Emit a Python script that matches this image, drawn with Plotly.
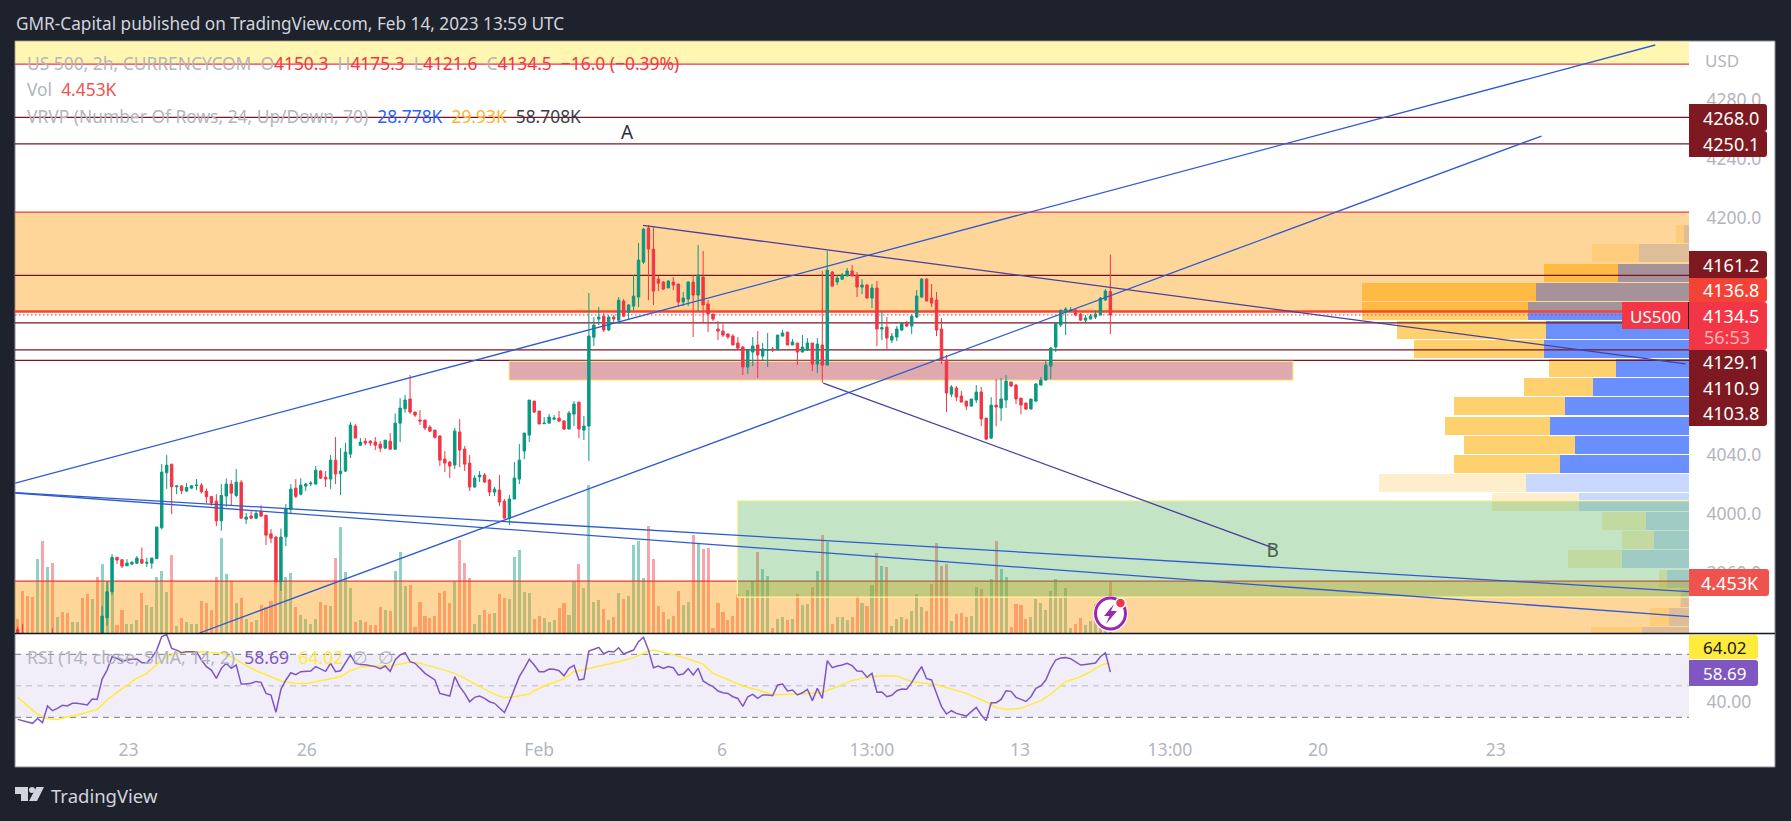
import plotly.graph_objects as go

W, H = 1791, 821
N = None

# ---- candles (bar index 0..220), prices
direction = ("rrrrgrgrgrrggrrgr" "ggg" "rr" "ggg" "r" "ggggg" "r" "g" "r" "ggg" "rrrr" "gg" "r" "g" "r" "g" "r" "g" "rrrr"
             "ggg" "r" "gggg" "rr" "g" "r" "ggg" "r" "g" "rrrr" "g" "r" "ggg" "rrrrrrrrr" "g" "rrr" "gg" "rr" "g" "rr"
             "ggggg" "rr" "ggg" "rr" "gg" "r" "gggg" "r" "g" "r" "g" "r" "gggg" "rrrr" "g" "rr" "gg" "r" "g" "rrrrrrrrr"
             "gg" "r" "gg" "r" "gg" "r" "g" "r" "gg" "r" "g" "r" "g" "r" "ggg" "rr" "g" "r" "g" "r" "g" "r" "ggg" "r" "ggg"
             "rrrrr" "g" "rrr" "gg" "rr" "g" "r" "gg" "rrrr" "ggggggggg" "rr" "ggggg" "r")

body_top = [3922,3915,N,N,N,N,N,3912,N,N,
 N,N,N,N,N,N,N,3931,3947.5,3970.7,
 3970.7,3969.1,3966.8,3967.3,3970.2,3969.3,3967.3,3970.2,3991.2,4028.3,
 4033,4033.7,4018.9,4018.9,4018,4019.1,4019.5,4019.5,4015.3,4011.9,
 4008.7,4012.5,4020.2,4020.2,4021.5,4021.5,3997.9,3998.6,4000.4,4001.7,
 3999.2,3986.6,3984.4,3984.4,4003.7,4016.8,4017.5,4019.5,4020.2,4020.9,
 4029.6,4029,4024.9,4036.4,4036.4,4029,4041.8,4060.1,4059.4,4048.6,
 4049.2,4049.2,4048.6,4047.2,4049.9,4049.2,4061.4,4071.6,4077,4077.7,
 4068.9,4063.5,4063.5,4058.7,4056.7,4052.7,4037.1,4035.1,4056,4055.4,
 4043.9,4034.4,4024.3,4026.3,4026.3,4022.9,4016.8,4016.2,4008.7,4010.1,
 4024.3,4036.4,4054.7,4077,4076.3,4069.6,4061.4,4065.5,4064.8,4064.8,
 4062.8,4068.2,4074.3,4075.6,4059.4,4120.2,4127.7,4133.1,4133.7,4133.1,
 4133.1,4144.5,4143.9,4141.2,4147.2,4171.6,4192.5,4193.2,4179,4158.7,
 4156.7,4157.4,4156.7,4155.4,4145.9,4156.7,4156.7,4161.5,4160.1,4141.9,
 4135.1,4125,4123.6,4121.6,4120.2,4115.5,4112.8,4110.8,4113.5,4114.2,
 4111.5,4111,4111.5,4120.9,4122.3,4122.9,4116.2,4115.5,4112.8,4115.5,
 4115.5,4114.8,4114.2,4164.8,4163.5,4159.4,4161.5,4164.2,4164.2,4161.5,
 4154.7,4154.7,4152.7,4152.7,4125.9,4126.3,4120.2,4125,4129,4129,
 4133.7,4147.3,4158.7,4158.7,4145.9,4144.6,4125,4104,4085.8,4085.1,
 4079.7,4076.3,4077.7,4082.4,4082.4,4064.8,4073.6,4073.6,4077.7,4089.8,
 4089.2,4087.1,4078.3,4075,4077.7,4087.8,4090.5,4100.6,4112.1,4129,
 4137.8,4138.5,4137.8,4137.8,4135.1,4132.4,4133.7,4135.1,4145.9,4150.6,
 4150.3]

body_bottom = [3905,3908,N,N,N,N,N,3905,N,N,
 N,N,N,N,N,N,N,3905,3929.9,3947.5,
 3968.9,3964.8,3965,3966.2,3966.8,3966.8,3966.8,3966.8,3969.8,3990.7,
 4027.9,4018.4,4018.4,4015.7,4015.5,4017.5,4019.1,4015,4011.7,4007.4,
 3995.4,3995.4,4012.1,4014.1,4012.5,3997.2,3996.5,3997.2,3997.2,3998.6,
 3985.7,3983.7,3954.2,3954.2,3984.6,4003.1,4011.9,4013.4,4018.9,4020.4,
 4020.2,4024.2,4023.6,4023.6,4027,4027.2,4029,4040.5,4051.3,4046.5,
 4047.9,4047.9,4046.5,4044.5,4044.5,4043.8,4043.8,4061.4,4071.1,4068.9,
 4066.8,4062.8,4058.1,4056,4051.8,4036.4,4034.4,4032.4,4033.1,4043.2,
 4033.7,4018.2,4018.2,4025,4021.6,4014.8,4014.8,4008.1,3997.2,3997.2,
 4010.1,4023.6,4042.5,4053.3,4068.9,4060.8,4061,4061.4,4064.1,4062.8,
 4057.4,4057.4,4067.5,4057.4,4056.7,4059.4,4119.5,4131.7,4124.3,4124.3,
 4131.7,4131,4133.7,4136.4,4140.5,4146.6,4170.2,4179,4150.6,4156,
 4152,4152.7,4154.7,4143.2,4143.2,4145.2,4147.9,4147.9,4141.2,4135.1,
 4131.7,4123.6,4120.9,4119.6,4114.2,4112.1,4099.3,4099.3,4109.4,4107.4,
 4106.7,4110.6,4110.8,4110.8,4120.2,4114.2,4114.2,4109.4,4109.4,4110.8,
 4101.3,4101.3,4100.6,4100.6,4154,4156.7,4158.7,4160.8,4160.8,4153.3,
 4153.3,4145.9,4145.9,4125,4125,4118.9,4117.5,4119.6,4124.3,4127,
 4127,4133.1,4146.6,4143.9,4142.5,4124.3,4104,4081.7,4081,4079,
 4075.6,4072.9,4072.9,4077,4064.2,4050.6,4051.3,4072.3,4071.6,4077,
 4086.5,4077.7,4073.6,4070.9,4070.9,4076.3,4087.1,4090.5,4100,4112.8,
 4127.7,4137.1,4137.1,4134.4,4131,4131,4131.7,4133.1,4134.4,4144.6,
 4134.5]

wick_high = [3924,3925.6,N,N,N,N,N,3922.7,N,N,
 N,N,N,N,N,N,N,3937.8,3954,3972.9,
 3970.7,3969.5,3969.5,3968.2,3971.6,3977.4,3970.5,3970.5,3991.2,4033.7,
 4039.8,4033.7,4019.5,4019.5,4020.9,4019.3,4023.6,4020.9,4017.3,4011.9,
 4013.4,4020.2,4024,4022.9,4030.3,4022.9,4000.6,4001.9,4002.6,4005.8,
 3999.2,3989.8,3985,3990.2,4006.7,4020.2,4023.6,4024.2,4020.9,4022.2,
 4032.4,4029.6,4029,4039.8,4052,4044.5,4048.1,4062.1,4060.7,4051.3,
 4051.3,4049.9,4052,4049.2,4049.9,4054.7,4068,4078.3,4080.4,4093.9,
 4068.9,4070.2,4063.5,4060.1,4056.7,4053.3,4042.5,4035.8,4058.1,4064.1,
 4045.9,4039.8,4026.3,4029,4027.6,4023.6,4018.2,4026.3,4010.1,4012.8,
 4035.1,4047.2,4054.7,4077,4076.3,4069.6,4065.5,4067.6,4066.8,4069.6,
 4063.5,4069.6,4076.3,4075.6,4066.2,4149.3,4133.1,4139.8,4135.8,4134.4,
 4134.4,4146.6,4145.2,4141.8,4161.4,4183.1,4193.2,4195.2,4193.7,4160.8,
 4157.4,4158.1,4160.1,4155.4,4150,4157.4,4161.5,4181.7,4177.7,4144.6,
 4135.1,4130.4,4128.3,4122.3,4121.6,4119.6,4113.5,4111.5,4119.6,4123.6,
 4115.5,4122.3,4112.8,4120.9,4124.3,4122.9,4118.2,4115.5,4120.9,4118.9,
 4115.5,4118.9,4164.2,4177.7,4164.2,4161.5,4162.8,4166.2,4168.2,4163.5,
 4158.7,4155.4,4155.4,4157.4,4137.1,4133.1,4122.3,4127,4129,4130.4,
 4135.1,4151.3,4159.4,4159.4,4155.4,4150,4132.4,4107.4,4087.1,4086.5,
 4083.1,4076.3,4077.7,4087.1,4085.8,4064.8,4079,4091.2,4091.9,4093.9,
 4089.2,4087.8,4078.3,4075,4077.7,4088.5,4092.5,4104,4112.8,4129,
 4137.8,4139.8,4139.8,4138.5,4135.8,4134.4,4135.1,4137.8,4146.6,4152,
 4175.3]

wick_low = [3900,3900,N,N,N,N,N,3900,N,N,
 N,N,N,N,N,N,N,3900,3924.5,3945.2,
 3966.2,3963.5,3965,3965.5,3966.2,3966.2,3964.3,3963,3969.8,3989.6,
 4017,3999.9,4013.4,4013.4,4014.8,4016.8,4016.1,4013.9,4007.2,4005.6,
 3991.8,3988.7,4004.9,4005.6,4011.4,3997.2,3993.2,3996.5,3996.5,3997.9,
 3979,3980.3,3954.2,3948,3978.3,3999.9,4010.7,4012.5,4015.5,4018.9,
 4020.2,4023.8,4018.2,4017,4020.2,4012.8,4028.3,4037.8,4051.3,4045.9,
 4046.5,4045.9,4043.2,4041.8,4044.1,4043.8,4043.2,4048.6,4068.4,4067.6,
 4065.5,4060.1,4056.7,4055.4,4051.1,4032.4,4028.3,4024.3,4030.4,4031.7,
 4029,4015.5,4018,4021.6,4020.9,4012.1,4012.1,4005.4,3997.2,3992.5,
 4010.1,4020.2,4037.1,4048.6,4068.2,4060.8,4061,4061.4,4063.5,4062.1,
 4056.7,4057.4,4059.4,4051.3,4050,4035.8,4113.5,4127.7,4122.9,4123.6,
 4129.7,4128.3,4133.1,4131,4137.8,4139.8,4168.9,4144.5,4141.2,4150.6,
 4151.3,4152.7,4151.3,4139.8,4140.5,4140.5,4119.6,4137.1,4128.8,4122.9,
 4130.4,4117.5,4119.6,4118.2,4114.2,4110.8,4093.9,4094.6,4100,4091.9,
 4104,4099.3,4109.4,4110.8,4120.2,4114.2,4114.2,4100.6,4109.4,4110.1,
 4096.6,4095.2,4088.5,4100.6,4153.3,4154.7,4158.1,4160.8,4160.8,4146.6,
 4148.6,4145.9,4139.2,4113.5,4117.5,4111.5,4115.5,4116.9,4123.6,4126.3,
 4121.6,4132.4,4145.9,4143.9,4139.8,4120.2,4101.3,4068.9,4079,4076.3,
 4075.6,4070.2,4072.9,4075,4059.4,4050,4050.6,4059.4,4062.8,4071.6,
 4085.8,4074.3,4067.5,4070.2,4070.9,4075.6,4087.1,4090.5,4091.2,4109.4,
 4126.3,4120.9,4136.5,4133.7,4130.4,4129.7,4131.7,4131.7,4134.4,4143.9,
 4121.6]

# ---- volume, thousands
volume = [1.25,3.63,3.26,3.11,6.48,8.05,5.78,6.13,1.42,1.86,
 1.77,.99,.99,3.08,3.43,2.99,4.91,6.05,4.51,3.78,
 .73,2.03,.81,.81,1.16,3.52,2.47,2.30,4.91,5.44,
 3.60,6.83,.64,1.31,.99,.76,.81,2.82,2.65,2.03,
 4.91,8.31,5.17,4.51,2.65,3.08,1.25,.99,1.16,2.47,
 2.30,2.82,4.65,4.51,4.91,5.26,2.30,1.60,1.25,.81,
 1.25,2.73,2.47,2.38,6.57,9.27,5.35,3.95,.99,1.16,
 .99,.73,.73,2.30,2.03,1.95,5.44,7.09,4.13,4.22,
 .55,2.73,1.51,1.34,1.51,3.52,3.69,2.65,4.53,8.14,
 6.13,4.80,.81,1.60,2.03,1.69,1.77,3.43,3.08,2.99,
 6.66,7.27,3.60,3.52,1.25,1.51,1.34,.99,1.16,2.21,
 2.65,1.60,4.51,6.05,3.95,12.94,2.73,2.91,2.12,1.16,
 1.42,3.52,2.99,3.26,7.70,8.05,4.83,9.36,6.48,2.38,
 1.86,1.25,1.51,3.69,2.47,2.73,8.58,7.85,7.35,7.44,
 .47,2.65,1.86,1.16,1.51,3.43,3.08,3.78,4.56,7.09,
 5.61,5.00,.47,1.25,1.42,1.16,1.25,3.43,2.47,2.56,
 4.04,5.44,8.58,7.97,.81,1.42,1.42,1.16,1.42,3.26,
 2.65,2.38,4.22,7.01,5.87,5.78,.64,1.25,1.42,1.25,
 1.95,3.43,2.30,1.95,4.30,7.88,5.87,6.05,1.08,1.69,
 1.77,1.42,1.51,4.04,3.87,3.17,4.74,8.05,5.61,4.91,
 .55,2.56,2.47,1.25,1.42,2.99,2.65,2.03,3.69,4.71,
 3.05,3.92,.44,.78,1.34,.73,1.08,2.56,.58,.44,
 4.453]

# ---- RSI
rsi = [28.7,27.9,27,26.2,29.3,26.6,37.2,34.2,35.7,37.6,
 37.2,38.9,38.9,38.4,37.8,41.6,41.4,54.3,60,68.5,
 67.4,65.7,66.4,66.8,67,64.7,64.7,67.9,72.7,81.2,
 82.5,73.8,72.7,71,71.7,71.9,71.7,66.4,62.2,60,
 54.7,61.1,64.3,61.1,63.2,51.1,51.1,51.6,52.8,52.2,
 45.2,44.2,33.2,47.8,53.7,58.3,57.1,59,59.4,59.4,
 62.2,60.9,59.2,64.3,59,59.6,64.3,69.6,64.3,63.6,
 63.4,63,62.2,60.9,62.6,59.2,66.4,69.6,71,65.3,
 64.3,61.1,57.9,55.8,53.7,45.2,44.2,43.5,55.8,49.5,
 45.2,39.9,42.7,43.5,42,39.9,38.9,35.7,33,39.9,
 48.4,55.8,61.1,66.8,63.2,
 59,59,60.7,60.5,59.6,56.4,61.1,63,53.7,54.3,
 72.1,73.2,74.4,70.2,71.9,71.5,74.2,70.2,71.3,72.7,
 78,80.8,72.7,61.5,62.6,61.1,62.2,61.5,56.9,57.5,
 60.9,56.9,61.1,53.1,51.1,49.5,46.7,45.6,45.2,43.1,
 42,37,43.1,44.6,42,44.2,44.2,43.7,50.5,51.1,
 46.7,47.3,44.2,45.6,47.8,40.6,48.4,42,66,61.5,
 62.6,63.2,64.3,62.8,59.4,59.2,55.4,57.9,45.9,46.1,
 43.1,44,46.9,48,47.8,52,57.5,62.2,54.5,53.7,
 45.2,36.8,32.1,34.2,32.5,31.5,30.8,33.6,36.3,31.5,
 27.9,39.3,39.3,41.4,46.9,46.5,42.7,41.4,40.1,43.1,
 48.4,49.9,53.7,61.1,
 66.4,67.6,67.9,67.2,65.3,63.2,63.6,64,64.5,68.5,71,58.69]

rsi_ma_bar = [0,2,4,6,8,10,12,16,18,20,22,24,26,28,30,32,34,37,41,43,45,48,51,53,56,58,60,63,65,67,69,72,75,79,81,84,86,88,90,93,96,98,100,103,
 104,106,108,110,112,115,119,121,124,127,128,131,135,138,140,143,146,149,152,158,162,165,168,171,174,177,180,185,188,191,195,197,199,202,206,208,211,214,216,218,219,220]
rsi_ma = [42.7,37.2,31.9,29.1,28.7,30.2,31.5,35,41,45.9,50.7,54.9,57.9,63.6,68.5,70.6,71.3,71.7,70.6,68.5,64.7,59.6,55.8,53.1,51.6,51.4,52.6,54.3,55.8,59.6,62,62.6,62.6,65.1,64.3,61.7,59.6,57.9,54.7,49.4,44.6,42.5,43.1,44.8,
 46.9,49.9,52,54.5,59,61.1,63.6,65.3,67.9,72.1,72.7,70.6,67,63.8,57.9,54.1,49.9,47.3,44.4,44.8,45.9,49.4,53.3,55.4,56.4,56.2,52.6,50.7,47.8,45.2,39.9,36.3,35,35.7,40.6,44.8,52.6,55.8,59,62.8,64,64.02]
rsi_levels = [70, 50, 30]

# ---- visible range volume profile, thousands per row
vp_price = [4189.0,4176.1,4163.1,4150.2,4137.3,4124.4,4111.4,4098.5,4085.6,4072.7,4059.7,4046.8,4033.9,4021.0,4008.0,3995.1,3982.2,3969.3,3956.3,3943.4,3930.5,3917.6]
vp_up = [.075,.75,1.065,2.295,2.415,2.145,2.175,1.095,1.44,1.86,2.085,1.71,1.935,2.445,1.65,.645,.525,1.005,.33,.12,.30,.705]
vp_down = [.12,.705,1.11,2.61,2.49,2.235,1.95,1.005,1.035,1.665,1.575,1.665,1.59,2.205,1.305,.66,.48,.81,.12,.015,.285,.765]
vp_in_value_area = [0,0,1,1,1,1,1,1,1,1,1,1,1,0,0,0,0,0,0,0,0,0]

# ---- drawings
dark_levels = [4268.0, 4250.1, 4161.2, 4129.1, 4110.9, 4103.8]
last_close = 4134.5
zone_a = (4204, 4136.8)     # orange
zone_b = (3954.7, 3850)     # orange
zone_top = (4304, 4400)     # yellow
pink_zone = (98.9, 256.8, 4103.2, 4090.3)
green_zone = (144.9, 340, 4009, 3943.9)
blue_lines = [((-0.5, 336.5), (4014.5, 3947.5)), ((-0.5, 336.5), (4014.2, 3930.6)),
              ((-0.5, 329.7), (4020.8, 4316.9)), ((36.6, 306.8), (3919.6, 4255.4))]
purple_lines = [((125.9, 335.8), (4195, 4101.5)), ((162.2, 253.4), (4088.5, 3976.3))]

price_ticks = [4280, 4240, 4200, 4040, 4000, 3960]
time_ticks = [22.3, 58.2, 105, 141.8, 172, 201.8, 232, 261.8, 297.6]
time_labels = ["23", "26", "Feb", "6", "13:00", "13", "13:00", "20", "23"]

assert len(direction) == 221, len(direction)
for a in (body_top, body_bottom, wick_high, wick_low, volume, rsi):
    assert len(a) == 221, len(a)
assert len(rsi_ma) == len(rsi_ma_bar)

FONT = "Noto Sans"
GREY = "#b2b5be"
X = lambda px: px / W
Y = lambda py: 1 - py / H
XR = [-0.54, 336.5]
PR = [3919.6, 4319.6]
bars = list(range(221))

opens = [None if t is None else (b if d == "g" else t) for t, b, d in zip(body_top, body_bottom, direction)]
closes = [None if t is None else (t if d == "g" else b) for t, b, d in zip(body_top, body_bottom, direction)]

fig = go.Figure()

# volume profile (base subplot, painted first)
fig.add_bar(y=vp_price, x=vp_up, orientation="h", width=12.1, xaxis="x", yaxis="y", showlegend=False,
            marker=dict(line_width=0, color=["#6a90ff" if v else "#c9d8ff" for v in vp_in_value_area]))
fig.add_bar(y=vp_price, x=vp_down, orientation="h", width=12.1, xaxis="x", yaxis="y", showlegend=False,
            marker=dict(line_width=0, color=["#fed06e" if v else "#feeecb" for v in vp_in_value_area]))

# volume
fig.add_bar(x=bars, y=volume, width=0.62, xaxis="x2", yaxis="y3", showlegend=False,
            marker=dict(line_width=0, color=["rgba(8,153,129,0.45)" if d == "g" else "rgba(242,54,69,0.45)" for d in direction]))

# zones
def zone(x0, x1, p0, p1, fill, line=None):
    fig.add_scatter(x=[x0, x1, x1, x0, x0], y=[p0, p0, p1, p1, p0], mode="lines", fill="toself", fillcolor=fill,
                    line=dict(color=line or "rgba(0,0,0,0)", width=1.2 if line else 0), xaxis="x2", yaxis="y5",
                    showlegend=False, hoverinfo="skip")

def level(p, color, width=1, dash="solid"):
    fig.add_scatter(x=XR, y=[p, p], mode="lines", line=dict(color=color, width=width, dash=dash), xaxis="x2", yaxis="y5",
                    showlegend=False, hoverinfo="skip")

zone(XR[0], XR[1], zone_top[0], zone_top[1], "rgba(255,235,59,0.4)")
zone(XR[0], XR[1], zone_a[0], zone_a[1], "rgba(255,152,0,0.4)")
zone(XR[0], XR[1], zone_b[0], zone_b[1], "rgba(255,152,0,0.4)")
level(zone_top[0], "#f23645", 1.2)
level(zone_a[0], "#f23645", 1.2)
level(zone_b[0], "#e23b3e", 1.2)
for p in dark_levels:
    level(p, "#7a1420", 1.3)
level(zone_a[1], "#f4472a", 2.6)
zone(pink_zone[0], pink_zone[1], pink_zone[2], pink_zone[3], "rgba(178,40,51,0.4)", "#fff59d")
zone(green_zone[0], green_zone[1], green_zone[2], green_zone[3], "rgba(76,175,80,0.33)", "#fff59d")

# candles and the lines above them
fig.add_trace(go.Candlestick(x=bars, open=opens, high=wick_high, low=wick_low, close=closes, xaxis="x2", yaxis="y6",
                             whiskerwidth=0, showlegend=False,
                             increasing=dict(line=dict(color="#089981", width=1), fillcolor="#089981"),
                             decreasing=dict(line=dict(color="#f23645", width=1), fillcolor="#f23645")))
fig.add_scatter(x=XR, y=[last_close, last_close], mode="lines", line=dict(color="#f23645", width=1, dash="1.5px,2.5px"),
                xaxis="x2", yaxis="y6", showlegend=False, hoverinfo="skip")
for xs, ys in blue_lines:
    fig.add_scatter(x=xs, y=ys, mode="lines", line=dict(color="#2f5bd0", width=1.3), xaxis="x2", yaxis="y6",
                    showlegend=False, hoverinfo="skip")
for xs, ys in purple_lines:
    fig.add_scatter(x=xs, y=ys, mode="lines", line=dict(color="#4a3f9f", width=1.3), xaxis="x2", yaxis="y6",
                    showlegend=False, hoverinfo="skip")
fig.add_scatter(x=[122.7, 252.7], y=[4256.7, 3974], mode="text", text=["A", "B"], xaxis="x2", yaxis="y6", showlegend=False,
                textfont=dict(family=FONT, size=19, color=["#2a2e39", "#47614f"]), hoverinfo="skip")

# RSI pane
rsi_x = "x3"; rsi_y = "y7"
fig.add_scatter(x=[XR[0], XR[1], XR[1], XR[0], XR[0]], y=[rsi_levels[2]] * 2 + [rsi_levels[0]] * 2 + [rsi_levels[2]],
                mode="lines", fill="toself", fillcolor="rgba(126,87,194,0.1)", line=dict(width=0, color="rgba(0,0,0,0)"),
                xaxis=rsi_x, yaxis=rsi_y, showlegend=False, hoverinfo="skip")
for lv, c in zip(rsi_levels, ["#787b86", "#b9bbc2", "#787b86"]):
    fig.add_scatter(x=XR, y=[lv, lv], mode="lines", line=dict(color=c, width=1, dash="6px,5px"), xaxis=rsi_x, yaxis=rsi_y,
                    showlegend=False, hoverinfo="skip")
fig.add_scatter(x=rsi_ma_bar, y=rsi_ma, mode="lines", line=dict(color="#ffeb3b", width=1.5), xaxis=rsi_x, yaxis=rsi_y,
                showlegend=False, hoverinfo="skip")
fig.add_scatter(x=bars, y=rsi, mode="lines", line=dict(color="#7e57c2", width=1.5), xaxis=rsi_x, yaxis=rsi_y,
                showlegend=False, hoverinfo="skip")

# ---- chrome
shapes = []
annos = []

def rrect(x0, y0, x1, y1, color, r=3, layer="above", line=None):
    p = (f"M{X(x0)},{Y(y0)} L{X(x1 - r)},{Y(y0)} Q{X(x1)},{Y(y0)} {X(x1)},{Y(y0 + r)} "
         f"L{X(x1)},{Y(y1 - r)} Q{X(x1)},{Y(y1)} {X(x1 - r)},{Y(y1)} L{X(x0)},{Y(y1)} Z")
    shapes.append(dict(type="path", path=p, xref="paper", yref="paper", fillcolor=color, layer=layer,
                       line=dict(width=0)))

def label(x, y, text, color="#ffffff", size=18, anchor="center"):
    annos.append(dict(x=X(x), y=Y(y), xref="paper", yref="paper", text=text, showarrow=False, xanchor=anchor, yanchor="middle",
                      font=dict(family=FONT, size=size, color=color), borderpad=0, align="left"))

shapes.append(dict(type="rect", xref="paper", yref="paper", x0=X(15), x1=X(1775), y0=Y(41), y1=Y(767), fillcolor="#ffffff",
                   layer="below", line=dict(color="#8a8d96", width=1)))
shapes.append(dict(type="line", xref="paper", yref="paper", x0=X(15), x1=X(1775), y0=Y(633.5), y1=Y(633.5),
                   line=dict(color="#131722", width=1.5)))

# price labels
DARK = "#7f1921"
rrect(1689, 104, 1767, 131, DARK); label(1731, 117.5, "4268.0")
rrect(1689, 131, 1767, 157, DARK); label(1731, 143.5, "4250.1")
rrect(1689, 251, 1767, 278, DARK); label(1731, 265, "4161.2")
rrect(1689, 278, 1767, 302, "#f44336"); label(1731, 290, "4136.8")
rrect(1689, 350, 1767, 426, DARK); label(1731, 362, "4129.1"); label(1731, 388, "4110.9"); label(1731, 413, "4103.8")
rrect(1689, 302, 1767, 350, "#f23645"); label(1731, 316, "4134.5"); label(1727, 337, "56:53", "#ffb3b9")
shapes.append(dict(type="rect", xref="paper", yref="paper", x0=X(1622), x1=X(1689), y0=Y(302), y1=Y(329), fillcolor="#f23645",
                   line=dict(width=0), layer="above"))
shapes.append(dict(type="line", xref="paper", yref="paper", x0=X(1688.5), x1=X(1688.5), y0=Y(302), y1=Y(329),
                   line=dict(color="#131722", width=1)))
label(1655, 316, "US500", size=17)
rrect(1689, 569, 1769, 596, "#ef5350"); label(1730, 582.5, "4.453K")
rrect(1689, 635, 1758, 659, "#ffeb3b"); label(1724, 647, "64.02", "#131722", size=17)
rrect(1689, 660, 1758, 686, "#7e57c2"); label(1724, 673, "58.69", size=17)
label(1704, 60.7, "USD", GREY, 17, "left")

# header, legend, footer
SP = "\u00a0\u00a0"
label(15, 23, "GMR-Capital published on TradingView.com, Feb 14, 2023 13:59 UTC", "#d1d4dc", 17.2, "left")
R = '<span style="color:#f23645">%s</span>'
label(26, 63, "US 500, 2h, CURRENCYCOM" + SP + "O" + R % "4150.3" + SP + "H" + R % "4175.3" + SP + "L" + R % "4121.6" + SP + "C" + R % "4134.5" +
      SP + R % "−16.0 (−0.39%)", GREY, 17.4, "left")
label(26, 89, 'Vol' + SP + '<span style="color:#ef5350">4.453K</span>', GREY, 17.4, "left")
label(26, 116, 'VRVP (Number Of Rows, 24, Up/Down, 70)' + SP + '<span style="color:#2962ff">28.778K</span>' + SP +
      '<span style="color:#ffb32c">29.93K</span>' + SP + '<span style="color:#3a3d46">58.708K</span>', GREY, 17.4, "left")
label(26, 657, 'RSI (14, close, SMA, 14, 2)' + SP + '<span style="color:#7e57c2">58.69</span>' + SP +
      '<span style="color:#ffeb3b">64.02</span>' + SP + '∅' + SP + '∅', GREY, 17.6, "left")
label(50, 795, "TradingView", "#d1d4dc", 18.5, "left")

def path(cmds):
    out = []
    for c in cmds:
        if len(c) == 1:
            out.append(c[0])
        else:
            out.append(f"{c[0]}{X(c[1])},{Y(c[2])}")
    return " ".join(out)

LOGO = "#d1d4dc"
shapes.append(dict(type="path", xref="paper", yref="paper", fillcolor=LOGO, line=dict(width=0),
                   path=path([("M", 15, 787), ("L", 28, 787), ("L", 28, 801), ("L", 21, 801), ("L", 21, 794), ("L", 15, 794), ("Z",)])))
shapes.append(dict(type="circle", xref="paper", yref="paper", fillcolor=LOGO, line=dict(width=0), x0=X(29), x1=X(35), y0=Y(787), y1=Y(793)))
shapes.append(dict(type="path", xref="paper", yref="paper", fillcolor=LOGO, line=dict(width=0),
                   path=path([("M", 36.5, 787), ("L", 44, 787), ("L", 37, 801), ("L", 29, 801), ("Z",)])))

# event icon
shapes.append(dict(type="circle", xref="paper", yref="paper", fillcolor="#ffffff", line=dict(width=0), x0=X(1093), x1=X(1128), y0=Y(596), y1=Y(632)))
shapes.append(dict(type="circle", xref="paper", yref="paper", fillcolor="#ffffff", line=dict(color="#9c27b0", width=3), x0=X(1095.5), x1=X(1125.5), y0=Y(598), y1=Y(629)))
shapes.append(dict(type="path", xref="paper", yref="paper", fillcolor="#9c27b0", line=dict(width=0),
                   path=path([("M", 1114, 604), ("L", 1104, 616), ("L", 1109.5, 616), ("L", 1106, 624), ("L", 1117, 611), ("L", 1111, 611), ("Z",)])))
shapes.append(dict(type="circle", xref="paper", yref="paper", fillcolor="#f23645", line=dict(color="#ffffff", width=1.5), x0=X(1115.5), x1=X(1125.5), y0=Y(598), y1=Y(608)))

hidden = dict(visible=False, showgrid=False, zeroline=False, fixedrange=True)
tick_font = dict(family=FONT, size=17.5, color=GREY)
fig.update_layout(
    width=W, height=H, margin=dict(l=0, r=0, t=0, b=0), paper_bgcolor="#1e222d", plot_bgcolor="rgba(0,0,0,0)",
    barmode="stack", bargap=0, boxgap=0.3, showlegend=False, shapes=shapes, annotations=annos, hovermode=False,
    xaxis=dict(domain=[X(15), X(1689)], range=[25.11, 0], anchor="y", **hidden),
    xaxis2=dict(domain=[X(15), X(1689)], range=XR, overlaying="x", anchor="y3", rangeslider=dict(visible=False), **hidden),
    xaxis3=dict(domain=[X(15), X(1689)], range=XR, anchor="y7", showgrid=False, zeroline=False, showline=False,
                tickmode="array", tickvals=time_ticks, ticktext=time_labels, tickfont=tick_font, ticks="outside",
                ticklen=8, tickcolor="rgba(0,0,0,0)", rangeslider=dict(visible=False)),
    yaxis=dict(domain=[Y(633), Y(41)], range=PR, anchor="x", **hidden),
    yaxis3=dict(domain=[Y(633), Y(41)], range=[0, 51.7], overlaying="y", anchor="x2", **hidden),
    yaxis5=dict(domain=[Y(633), Y(41)], range=PR, overlaying="y", anchor="x2", **hidden),
    yaxis6=dict(domain=[Y(633), Y(41)], range=PR, overlaying="y", anchor="x2", side="right", showgrid=False, zeroline=False,
                tickmode="array", tickvals=price_ticks, ticktext=[f"{v:.1f}" for v in price_ticks], tickfont=tick_font,
                ticks="outside", ticklen=13, tickcolor="rgba(0,0,0,0)"),
    yaxis7=dict(domain=[Y(726), Y(634)], range=[24.5, 82.9], anchor="x3", side="right", showgrid=False, zeroline=False,
                tickmode="array", tickvals=[40], ticktext=["40.00"], tickfont=tick_font, ticks="outside", ticklen=13,
                tickcolor="rgba(0,0,0,0)"),
)

fig.write_html("out.html", config={"displayModeBar": False},
               post_script="document.body.style.margin='0';document.body.style.background='#1e222d';")
